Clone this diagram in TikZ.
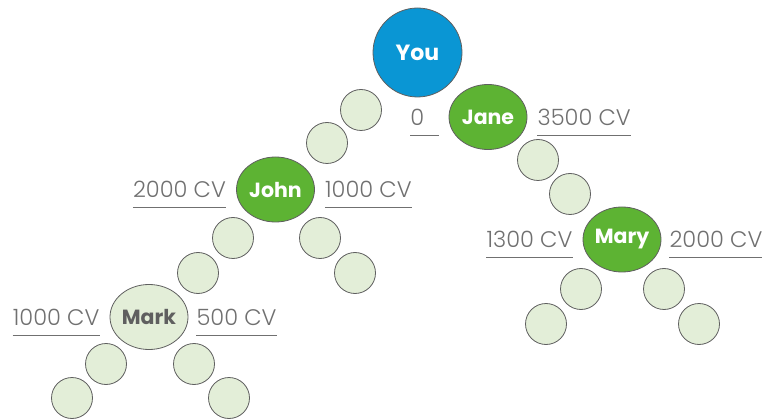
\documentclass[tikz,border=0pt]{standalone}
\usepackage{fontspec}
\setmainfont{Poppins}
\newfontfamily\cvfont{Poppins}[UprightFont=* Light]
\usetikzlibrary{positioning,shapes.geometric}

\definecolor{youblue}{HTML}{0A96D4}
\definecolor{leafgreen}{HTML}{5DB333}
\definecolor{palegreen}{HTML}{E3EED8}
\definecolor{rimgray}{HTML}{5F5F5F}
\definecolor{cvgray}{HTML}{707070}

\begin{document}
\begin{tikzpicture}[x=1pt,y=-1pt,
  bead/.style   = {draw=rimgray,line width=0.8pt,circle,fill=palegreen,minimum size=41pt,inner sep=0pt},
  member/.style = {draw=rimgray,line width=0.8pt,ellipse,fill=leafgreen,minimum width=78pt,minimum height=65pt,
                   inner sep=0pt,text=white,font=\fontsize{20.5}{20.5}\selectfont\bfseries},
  pale/.style   = {fill=palegreen,text=rimgray},
  you/.style    = {draw=rimgray,line width=0.8pt,circle,fill=youblue,minimum size=89pt,inner sep=0pt,
                   text=white,font=\fontsize{22}{22}\selectfont\bfseries},
  cv/.style     = {inner sep=0pt,text=cvgray,font=\fontsize{22.5}{22.5}\cvfont}]
\useasboundingbox (0,0) rectangle (762,419);

\node[you]    (you)  at (417.5,52.5) {You};
\node[bead]   (y1)   at (361,110) {};
\node[bead]   (y2)   at (327,143) {};

\node[member] (john) at (275.5,189.5) {John};
\node[bead]   (j1)   at (233,238) {};
\node[bead]   (j2)   at (198,273) {};
\node[bead]   (j3)   at (320,238) {};
\node[bead]   (j4)   at (355,273) {};

\node[member,pale] (mark) at (149,317) {Mark};
\node[bead]   (m1)   at (106,364) {};
\node[bead]   (m2)   at (72,398) {};
\node[bead]   (m3)   at (194,364) {};
\node[bead]   (m4)   at (229,398) {};

\node[member] (jane) at (488,117) {Jane};
\node[bead]   (n1)   at (538,160) {};
\node[bead]   (n2)   at (570,194) {};

\node[member] (mary) at (622,239.5) {Mary};
\node[bead]   (r1)   at (581,289) {};
\node[bead]   (r2)   at (546,324) {};
\node[bead]   (r3)   at (664,289) {};
\node[bead]   (r4)   at (699,324) {};

% CV figures beside each member
\node[cv,left=10pt of jane,text width=28pt,align=left] (janel) {0};
\node[cv,right=10pt of jane]  (janer) {3500 CV};
\node[cv,left=10pt of john]   (johnl) {2000 CV};
\node[cv,right=10pt of john]  (johnr) {1000 CV};
\node[cv,left=10pt of mark]   (markl) {1000 CV};
\node[cv,right=8pt of mark]   (markr) {500 CV};
\node[cv,left=10pt of mary]   (maryl) {1300 CV};
\node[cv,right=8pt of mary]   (maryr) {2000 CV};

\foreach \l in {janel,janer,johnl,johnr,markl,markr,maryl,maryr}
  \draw[cvgray,line width=1pt] ([yshift=-10pt]\l.base west) -- ([yshift=-10pt]\l.base east);
\end{tikzpicture}
\end{document}
